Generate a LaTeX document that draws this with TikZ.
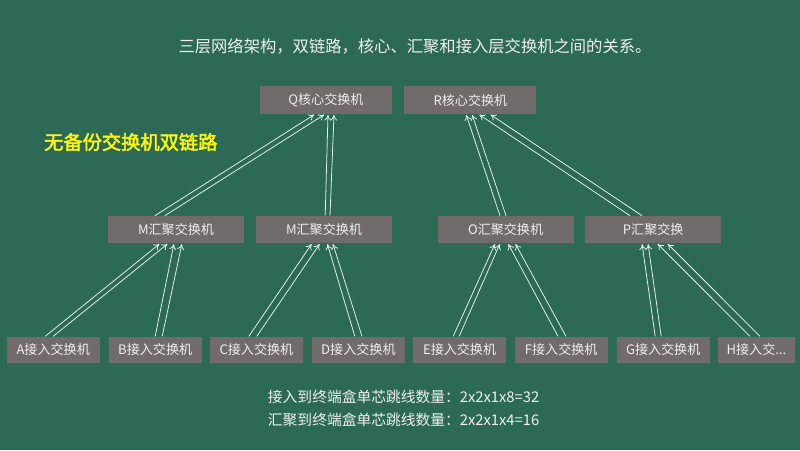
\documentclass[tikz,border=0pt]{standalone}
\usepackage{fontspec}
\setmainfont{Noto Sans CJK SC}
\newfontfamily\hdfont{Noto Sans CJK SC}[FakeBold=2.5]
\usepackage{xcolor}
\usepackage{tikz}
\usetikzlibrary{arrows.meta}
\usetikzlibrary{arrows}

\definecolor{boardgreen}{RGB}{44,106,86}
\definecolor{boxgrey}{RGB}{113,107,107}
\definecolor{boxtext}{RGB}{238,238,238}
\definecolor{linkwhite}{RGB}{226,242,234}
\definecolor{chalkyellow}{RGB}{250,245,20}

\tikzset{
	switchbox/.style={fill=boxgrey, draw=none, text=boxtext, inner sep=0pt, font=\fontsize{9.3}{11}\selectfont},
	corebox/.style={switchbox, minimum width=3.3cm, minimum height=0.7cm},
	aggbox/.style={switchbox, minimum width=3.4cm, minimum height=0.68cm},
	accbox/.style={switchbox, minimum width=2.33cm, minimum height=0.65cm},
	link/.style={draw=linkwhite, line width=0.55pt, ->, >={To[length=4pt,width=5pt]}, shorten >=0.5pt}
}

\begin{document}
\begin{tikzpicture}
	\fill [boardgreen] (0, 0) rectangle (20, 11.25);

	\node [text=boxtext, font=\fontsize{11.6}{13}\selectfont] (title) at (10.375, 10.08) {三层网络架构，双链路，核心、汇聚和接入层交换机之间的关系。};
	\node [text=chalkyellow, font=\hdfont\fontsize{13.7}{15}\selectfont] (tag) at (3.27, 7.7) {无备份交换机双链路};

	% core
	\node [corebox] (q) at (8.15, 8.75) {Q核心交换机};
	\node [corebox] (r) at (11.76, 8.75) {R核心交换机};

	% aggregation
	\node [aggbox] (m1) at (4.4, 5.51) {M汇聚交换机};
	\node [aggbox] (m2) at (8.1, 5.51) {M汇聚交换机};
	\node [aggbox] (o) at (12.64, 5.51) {O汇聚交换机};
	\node [aggbox] (p) at (16.33, 5.51) {P汇聚交换};

	% access
	\node [accbox] (a) at (1.33, 2.51) {A接入交换机};
	\node [accbox] (b) at (3.88, 2.51) {B接入交换机};
	\node [accbox] (c) at (6.41, 2.51) {C接入交换机};
	\node [accbox] (d) at (8.96, 2.51) {D接入交换机};
	\node [accbox] (e) at (11.49, 2.51) {E接入交换机};
	\node [accbox] (f) at (14.03, 2.51) {F接入交换机};
	\node [accbox] (g) at (16.58, 2.51) {G接入交换机};
	\node [accbox, minimum width=1.93cm] (h) at (18.91, 2.51) {H接入交...};

	\node [anchor=west, text=boxtext, font=\fontsize{10.5}{12}\selectfont] (line1) at (6.575, 1.325) {接入到终端盒单芯跳线数量：2x2x1x8=32};
	\node [anchor=west, text=boxtext, font=\fontsize{10.5}{12}\selectfont] (line2) at (6.575, 0.75) {汇聚到终端盒单芯跳线数量：2x2x1x4=16};

	% double links, child -> parent
	\foreach \cn/\ca/\cb/\pn/\pa/\pb in {
		a/-0.2/0/m1/-0.4/-0.2,
		b/0/0.175/m1/-0.05/0.15,
		c/-0.19/0.01/m2/-0.3/-0.1,
		d/-0.09/0.09/m2/0.08/0.22,
		e/-0.16/-0.01/o/-0.26/-0.14,
		f/-0.08/0.12/o/0.06/0.24,
		g/-0.2/-0.05/p/-0.28/-0.13,
		h/-0.16/0.09/p/0.1/0.35,
		m1/-0.53/-0.28/q/-0.28/-0.03,
		m2/0.03/0.15/q/0.05/0.2,
		o/-0.14/0.01/r/-0.11/0.04,
		p/-0.58/-0.28/r/0.21/0.49} {
		\draw [link] ([xshift=\ca cm]\cn.north) -- ([xshift=\pa cm]\pn.south);
		\draw [link] ([xshift=\cb cm]\cn.north) -- ([xshift=\pb cm]\pn.south);
	}
\end{tikzpicture}
\end{document}
